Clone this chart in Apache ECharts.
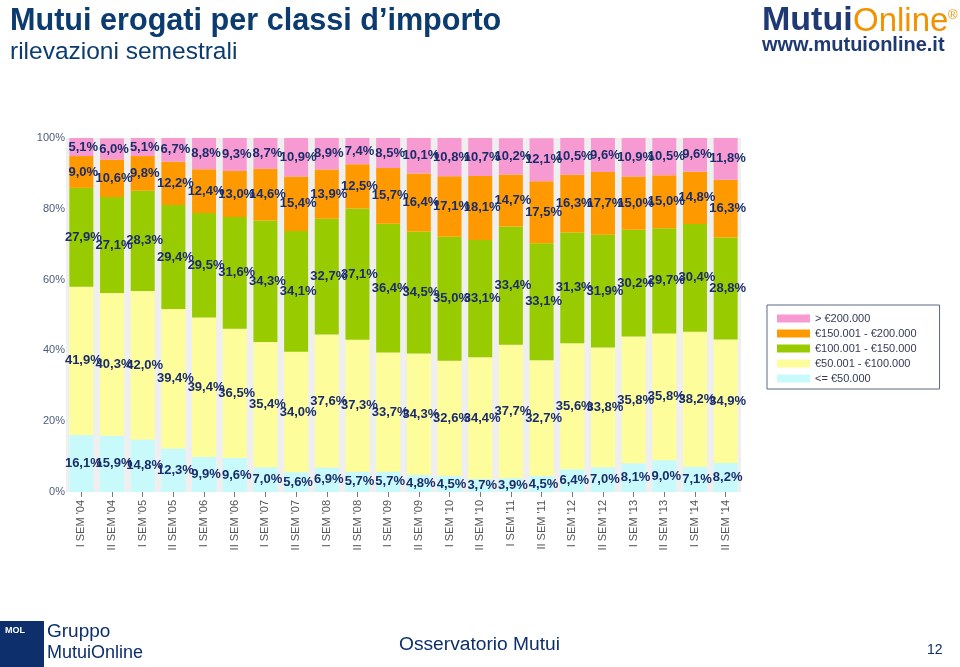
<!DOCTYPE html>
<html>
<head>
<meta charset="utf-8">
<script src="https://cdn.jsdelivr.net/npm/echarts@6/dist/echarts.min.js"></script>
<style>
html,body{margin:0;padding:0;background:#fff;}
#chart{width:960px;height:667px;}
</style>
</head>
<body>
<div id="chart"></div>
<script>
const categories = ["I SEM '04","II SEM '04","I SEM '05","II SEM '05","I SEM '06","II SEM '06","I SEM '07","II SEM '07","I SEM '08","II SEM '08","I SEM '09","II SEM '09","I SEM '10","II SEM '10","I SEM '11","II SEM '11","I SEM '12","II SEM '12","I SEM '13","II SEM '13","I SEM '14","II SEM '14"];
const le50     = [16.1,15.9,14.8,12.3,9.9,9.6,7.0,5.6,6.9,5.7,5.7,4.8,4.5,3.7,3.9,4.5,6.4,7.0,8.1,9.0,7.1,8.2];
const r50_100  = [41.9,40.3,42.0,39.4,39.4,36.5,35.4,34.0,37.6,37.3,33.7,34.3,32.6,34.4,37.7,32.7,35.6,33.8,35.8,35.8,38.2,34.9];
const r100_150 = [27.9,27.1,28.3,29.4,29.5,31.6,34.3,34.1,32.7,37.1,36.4,34.5,35.0,33.1,33.4,33.1,31.3,31.9,30.2,29.7,30.4,28.8];
const r150_200 = [9.0,10.6,9.8,12.2,12.4,13.0,14.6,15.4,13.9,12.5,15.7,16.4,17.1,18.1,14.7,17.5,16.3,17.7,15.0,15.0,14.8,16.3];
const gt200    = [5.1,6.0,5.1,6.7,8.8,9.3,8.7,10.9,8.9,7.4,8.5,10.1,10.8,10.7,10.2,12.1,10.5,9.6,10.9,10.5,9.6,11.8];
const seriesNames = ['<= €50.000','€50.001 - €100.000','€100.001 - €150.000','€150.001 - €200.000','> €200.000'];
const yTicks = [0,20,40,60,80,100];

const colors = ['#c8fafc','#fdfd9c','#99cc00','#ff9900','#f79ad2'];
const seriesData = [le50, r50_100, r100_150, r150_200, gt200];

const navy = '#0b3b6f';
const labelFmt = p => p.value.toFixed(1).replace('.', ',') + '%';

const chart = echarts.init(document.getElementById('chart'));
chart.setOption({
  animation: false,
  backgroundColor: '#fff',
  grid: {left: 66, right: 219, top: 138, bottom: 175, show: true, backgroundColor: '#efefef', borderWidth: 0},
  legend: {
    orient: 'vertical', left: 767, top: 305,
    data: seriesNames.slice().reverse(),
    icon: 'rect', itemWidth: 33, itemHeight: 8, itemGap: 4,
    padding: [8, 23, 5, 10],
    borderColor: '#5a6a85', borderWidth: 1, backgroundColor: '#fff',
    textStyle: {fontFamily: 'Liberation Sans', fontSize: 11, lineHeight: 11, color: '#333a55'}
  },
  xAxis: {
    type: 'category', data: categories,
    axisLine: {show: false},
    axisTick: {show: true, alignWithLabel: true, length: 5, lineStyle: {color: '#777'}},
    axisLabel: {rotate: 90, margin: 8, fontFamily: 'Liberation Sans', fontSize: 11, color: '#555'}
  },
  yAxis: {
    type: 'value', min: yTicks[0], max: yTicks[yTicks.length - 1], interval: 20,
    splitLine: {show: false}, axisLine: {show: false}, axisTick: {show: false},
    axisLabel: {formatter: '{value}%', margin: 1, fontFamily: 'Liberation Sans', fontSize: 11, color: '#4c5c7c'}
  },
  series: seriesData.map((d, i) => ({
    name: seriesNames[i], type: 'bar', stack: 'total', data: d,
    barWidth: 24,
    itemStyle: {color: colors[i]},
    label: {show: true, position: 'inside', offset: [2, 0], formatter: labelFmt,
      fontFamily: 'Liberation Sans', fontWeight: 'bold', fontSize: 13, color: '#1a2d6a'}
  })),
  graphic: [
    {type: 'text', left: 10, top: 6, style: {text: 'Mutui erogati per classi d’importo', font: 'bold 30.6px "Liberation Sans"', fill: navy}},
    {type: 'text', left: 10, top: 40, style: {text: 'rilevazioni semestrali', font: '24.5px "Liberation Sans"', fill: navy}},
    {type: 'text', left: 762, top: 4, style: {text: 'Mutui', font: 'bold 34px "Liberation Sans"', fill: '#1f3a73'}},
    {type: 'text', left: 853, top: 5, style: {text: 'Online', font: '33px "Liberation Sans"', fill: '#f39200'}},
    {type: 'text', left: 948, top: 9, style: {text: '®', font: '13px "Liberation Sans"', fill: '#f39200'}},
    {type: 'text', left: 762, top: 35, style: {text: 'www.mutuionline.it', font: 'bold 20px "Liberation Sans"', fill: '#1f3a73'}},
    {type: 'rect', shape: {x: 0, y: 621, width: 44, height: 46}, style: {fill: '#0d2f6b'}},
    {type: 'text', left: 5, top: 626, style: {text: 'MOL', font: 'bold 9px "Liberation Sans"', fill: '#fff'}},
    {type: 'text', left: 47, top: 622, style: {text: 'Gruppo', font: '19px "Liberation Sans"', fill: '#0d2f6b'}},
    {type: 'text', left: 47, top: 644, style: {text: 'MutuiOnline', font: '18px "Liberation Sans"', fill: '#0d2f6b'}},
    {type: 'text', left: 399, top: 635, style: {text: 'Osservatorio Mutui', font: '19.2px "Liberation Sans"', fill: '#0d2f6b'}},
    {type: 'text', left: 927, top: 643, style: {text: '12', font: '14px "Liberation Sans"', fill: '#0d2f6b'}}
  ]
});
</script>
</body>
</html>
